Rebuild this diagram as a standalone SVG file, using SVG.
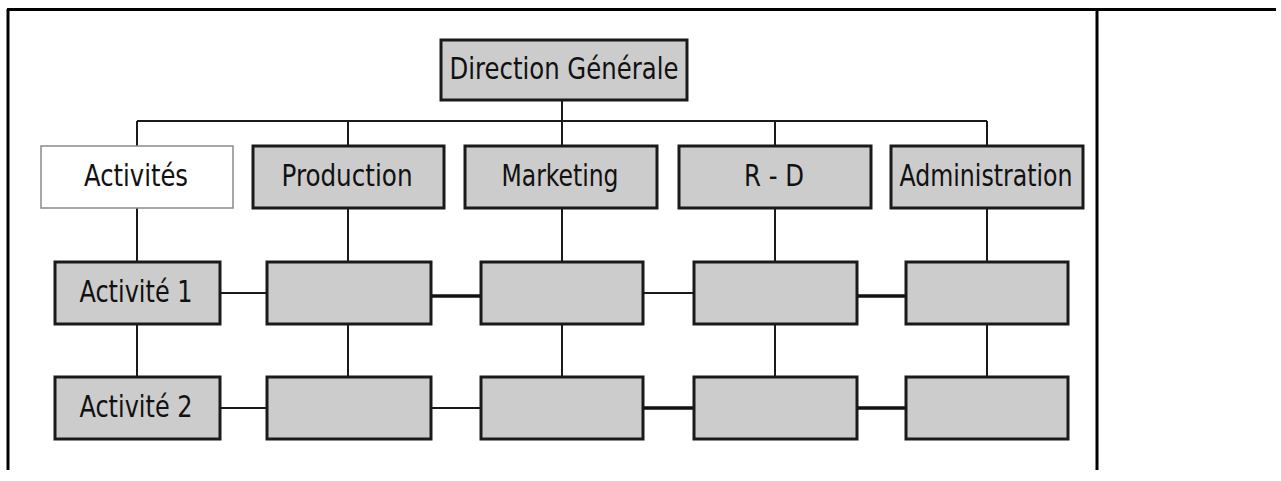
<svg xmlns="http://www.w3.org/2000/svg" width="1281" height="481" viewBox="0 0 1281 481">
<style>
.box{fill:#cccccc;stroke:#1a1a1a;stroke-width:3}
.wbox{fill:#ffffff;stroke:#8a8a8a;stroke-width:1.5}
.lbl{font-family:"DejaVu Sans Condensed","DejaVu Sans","Liberation Sans Narrow",sans-serif;font-stretch:condensed;font-size:30px;fill:#111;text-anchor:middle;dominant-baseline:central}
.c{stroke:#1a1a1a;stroke-width:2;fill:none}
.ct{stroke:#111;stroke-width:3.5;fill:none}
.frame{stroke:#000;stroke-width:3;fill:none}
</style>
<rect width="1281" height="481" fill="#fff"/>
<g id="frame">
<path class="frame" d="M7,9.5 H1276 M8,9 V470 M1097,9 V470"/>
</g>
<g id="connectors">
<path class="c" d="M562,100 V121 M137,121 H987 M137,121 V146 M348,121 V146 M562,121 V146 M775,121 V146 M987,121 V146"/>
<path class="c" d="M137,208 V262 M348,208 V262 M562,208 V262 M775,208 V262 M987,208 V262"/>
<path class="c" d="M137,324 V377 M348,324 V377 M562,324 V377 M775,324 V377 M987,324 V377"/>
<path class="c" d="M220,293 H267 M643,293 H694"/>
<path class="ct" d="M431,296 H481 M857,296 H906"/>
<path class="c" d="M220,408 H267 M431,408 H481"/>
<path class="ct" d="M643,408 H694 M857,408 H906"/>
</g>
<g id="n-dg"><rect class="box" x="441" y="40" width="246" height="60"/><text class="lbl" x="564" y="68" textLength="229" lengthAdjust="spacingAndGlyphs">Direction Générale</text></g>
<g id="n-activites"><rect class="wbox" x="41" y="146" width="192" height="62"/><text class="lbl" x="136" y="175" textLength="104" lengthAdjust="spacingAndGlyphs">Activités</text></g>
<g id="n-production"><rect class="box" x="253" y="146" width="191" height="62"/><text class="lbl" x="347" y="175" textLength="131" lengthAdjust="spacingAndGlyphs">Production</text></g>
<g id="n-marketing"><rect class="box" x="465" y="146" width="192" height="62"/><text class="lbl" x="560" y="175" textLength="117" lengthAdjust="spacingAndGlyphs">Marketing</text></g>
<g id="n-rd"><rect class="box" x="679" y="146" width="192" height="62"/><text class="lbl" x="774" y="175" textLength="60" lengthAdjust="spacingAndGlyphs">R - D</text></g>
<g id="n-admin"><rect class="box" x="891" y="146" width="192" height="62"/><text class="lbl" x="986" y="175" textLength="173" lengthAdjust="spacingAndGlyphs">Administration</text></g>
<g id="n-act1"><rect class="box" x="55" y="262" width="165" height="62"/><text class="lbl" x="136" y="291" textLength="113" lengthAdjust="spacingAndGlyphs">Activité 1</text></g>
<g id="n-p1"><rect class="box" x="267" y="262" width="164" height="62"/></g>
<g id="n-m1"><rect class="box" x="481" y="262" width="162" height="62"/></g>
<g id="n-r1"><rect class="box" x="694" y="262" width="163" height="62"/></g>
<g id="n-a1"><rect class="box" x="906" y="262" width="162" height="62"/></g>
<g id="n-act2"><rect class="box" x="55" y="377" width="165" height="62"/><text class="lbl" x="136" y="406" textLength="113" lengthAdjust="spacingAndGlyphs">Activité 2</text></g>
<g id="n-p2"><rect class="box" x="267" y="377" width="164" height="62"/></g>
<g id="n-m2"><rect class="box" x="481" y="377" width="162" height="62"/></g>
<g id="n-r2"><rect class="box" x="694" y="377" width="163" height="62"/></g>
<g id="n-a2"><rect class="box" x="906" y="377" width="162" height="62"/></g>
</svg>
